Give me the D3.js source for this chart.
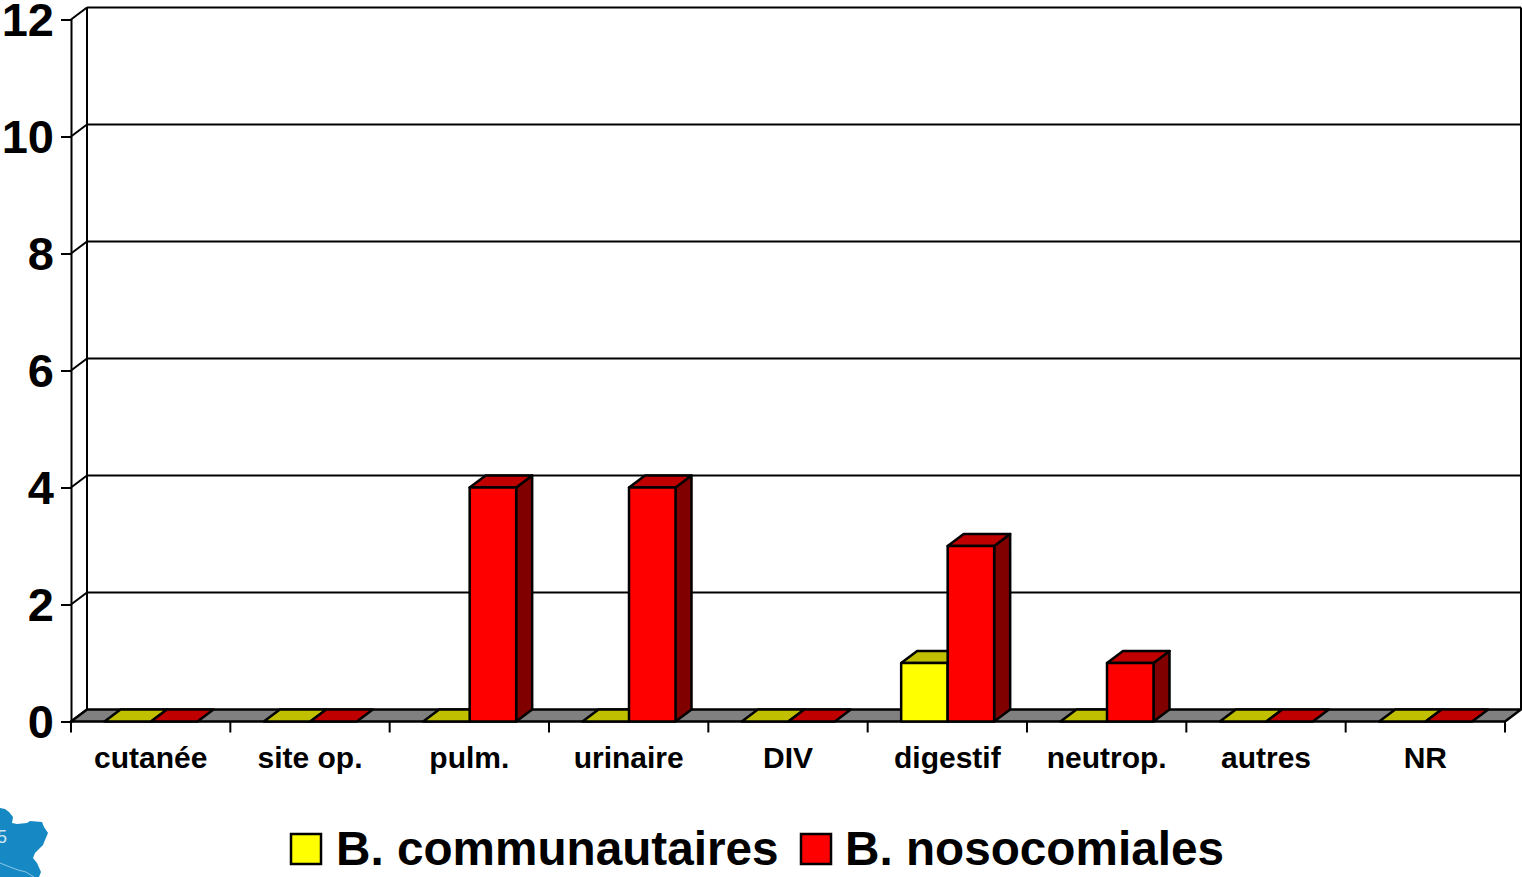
<!DOCTYPE html>
<html>
<head>
<meta charset="utf-8">
<script src="https://cdn.jsdelivr.net/npm/d3@7"></script>
<style>
  html, body { margin: 0; padding: 0; background: #fff; overflow: hidden; }
  svg { display: block; }
  text { font-family: "Liberation Sans", Arial, sans-serif; font-weight: bold; fill: #000; }
</style>
</head>
<body>
<div id="root"></div>
<script>
const categories = ["cutanée", "site op.", "pulm.", "urinaire", "DIV", "digestif", "neutrop.", "autres", "NR"]
const seriesNames = ["B. communautaires", "B. nosocomiales"]
const communautaires = [0, 0, 0, 0, 0, 1, 0, 0, 0]
const nosocomiales = [0, 0, 4, 4, 0, 3, 1, 0, 0]
const yTicks = [0, 2, 4, 6, 8, 10, 12]

const seriesValues = [communautaires, nosocomiales]
const front = ["#ffff00", "#ff0000"]
const top_ = ["#c0c000", "#c00000"]
const side = ["#808000", "#800000"]

const w = 1522
const h = 877
const dx = 16   // depth of the fake 3d
const dy = -12

const y = d3.scaleLinear().domain([0, 12]).range([721.5, 19.5])
const x = d3.scaleBand().domain(categories).range([71, 1505])
const xInner = d3.scaleBand().domain([0, 1]).range([33.5, 126.5])

const svg = d3.select("#root")
    .append("svg")
    .attr("width", w)
    .attr("height", h)

const pts = arr => arr.map(p => p.join(",")).join(" ")

// back walls and gridlines
const grid = svg.append("g")
    .attr("fill", "none")
    .attr("stroke", "#000")
    .attr("stroke-width", 2)

grid.selectAll("line.grid")
    .data(yTicks.slice(1))
    .enter()
    .append("line")
    .attr("class", "grid")
    .attr("x1", x.range()[0] + dx)
    .attr("x2", x.range()[1] + dx)
    .attr("y1", d => y(d) + dy)
    .attr("y2", d => y(d) + dy)

grid.selectAll("line.wall")
    .data(yTicks)
    .enter()
    .append("line")
    .attr("class", "wall")
    .attr("x1", x.range()[0])
    .attr("x2", x.range()[0] + dx)
    .attr("y1", d => y(d))
    .attr("y2", d => y(d) + dy)

grid.append("line")
    .attr("x1", x.range()[0] + dx).attr("x2", x.range()[0] + dx)
    .attr("y1", y(0) + dy).attr("y2", y(12) + dy)

grid.append("line")
    .attr("x1", x.range()[1] + dx).attr("x2", x.range()[1] + dx)
    .attr("y1", y(0) + dy).attr("y2", y(12) + dy)

// floor
svg.append("polygon")
    .attr("points", pts([
        [x.range()[0], y(0)],
        [x.range()[0] + dx, y(0) + dy],
        [x.range()[1] + dx, y(0) + dy],
        [x.range()[1], y(0)]
    ]))
    .attr("fill", "#808080")
    .attr("stroke", "#000")
    .attr("stroke-width", 2.5)

// bars, series by series so the red one covers the yellow one
const bars = []
seriesValues.forEach((vals, s) => {
    vals.forEach((v, i) => bars.push({ s, v, cat: categories[i] }))
})

const bar = svg.selectAll("g.bar")
    .data(bars)
    .enter()
    .append("g")
    .attr("class", "bar")
    .attr("stroke", "#000")
    .attr("stroke-width", 2.5)
    .attr("stroke-linejoin", "round")

const x0 = d => x(d.cat) + xInner(d.s)
const x1 = d => x0(d) + xInner.bandwidth()

bar.filter(d => d.v > 0).append("polygon")
    .attr("fill", d => side[d.s])
    .attr("points", d => pts([
        [x1(d), y(0)],
        [x1(d) + dx, y(0) + dy],
        [x1(d) + dx, y(d.v) + dy],
        [x1(d), y(d.v)]
    ]))

bar.append("polygon")
    .attr("fill", d => top_[d.s])
    .attr("points", d => pts([
        [x0(d), y(d.v)],
        [x0(d) + dx, y(d.v) + dy],
        [x1(d) + dx, y(d.v) + dy],
        [x1(d), y(d.v)]
    ]))

bar.filter(d => d.v > 0).append("rect")
    .attr("fill", d => front[d.s])
    .attr("x", x0)
    .attr("y", d => y(d.v))
    .attr("width", xInner.bandwidth())
    .attr("height", d => y(0) - y(d.v))

// axes
const yAxis = d3.axisLeft(y).tickValues(yTicks).tickSize(10).tickPadding(7)
const gy = svg.append("g")
    .attr("transform", `translate(${x.range()[0]}, 0)`)
    .call(yAxis)
gy.selectAll("path, line").attr("stroke", "#000").attr("stroke-width", 2)
gy.selectAll("text")
    .attr("font-size", 47)
    .attr("fill", "#000")
    .attr("dy", "0.34em")

const xAxis = d3.axisBottom(x).tickSize(0).tickPadding(25)
const gx = svg.append("g")
    .attr("transform", `translate(0, ${y(0)})`)
    .call(xAxis)
gx.select("path").remove()
gx.selectAll("text").attr("font-size", 30).attr("fill", "#000")

gx.selectAll("line.sep")
    .data(categories.concat(["end"]))
    .enter()
    .append("line")
    .attr("class", "sep")
    .attr("stroke", "#000")
    .attr("stroke-width", 2)
    .attr("x1", (d, i) => x.range()[0] + i * x.step())
    .attr("x2", (d, i) => x.range()[0] + i * x.step())
    .attr("y1", 0)
    .attr("y2", 11)

// legend
const legendPos = [{ box: 291, label: 336 }, { box: 801, label: 845 }]
const legend = svg.selectAll("g.legend")
    .data(seriesNames)
    .enter()
    .append("g")
    .attr("class", "legend")

legend.append("rect")
    .attr("x", (d, i) => legendPos[i].box)
    .attr("y", 834)
    .attr("width", 30)
    .attr("height", 30)
    .attr("fill", (d, i) => front[i])
    .attr("stroke", "#000")
    .attr("stroke-width", 2.5)

legend.append("text")
    .attr("x", (d, i) => legendPos[i].label)
    .attr("y", 865)
    .attr("font-size", 47.7)
    .text(d => d)

// bit of map cropped in the corner
svg.append("path")
    .attr("fill", "#1689c4")
    .attr("d", "M0,808 L5,809 L9,812 L13,817 L12,823 L17,824 L27,823 L30,821 L42,822 L44,827 L48,833 L45,840 L43,845 L35,853 L33,858 L37,863 L41,872 L39,877 L0,877 Z")

svg.append("path")
    .attr("fill", "none")
    .attr("stroke", "#8cc6e4")
    .attr("stroke-width", 1)
    .attr("d", "M0,863 L10,867 L18,870 L26,872 L34,877")

svg.append("text")
    .attr("x", -3)
    .attr("y", 843)
    .attr("font-size", 18)
    .style("font-weight", "normal")
    .style("fill", "#cfe7f3")
    .text("5")
</script>
</body>
</html>
